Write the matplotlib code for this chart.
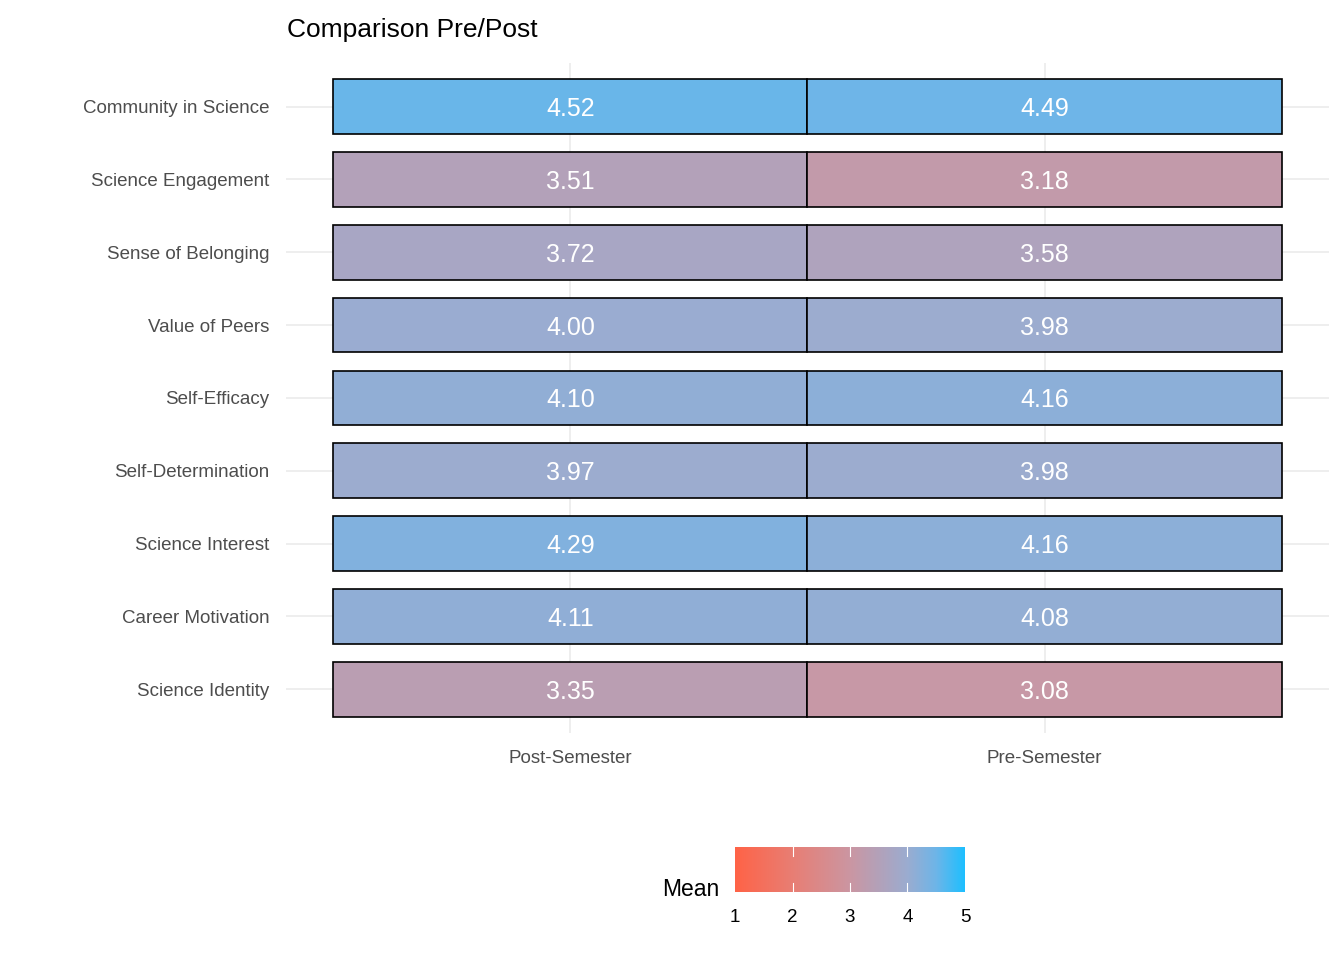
import numpy as np
import matplotlib.pyplot as plt
from matplotlib.colors import LinearSegmentedColormap, Normalize
from matplotlib.patches import Rectangle

plt.rcParams['font.family'] = ['Liberation Sans', 'DejaVu Sans']

constructs = ["Community in Science", "Science Engagement", "Sense of Belonging",
              "Value of Peers", "Self-Efficacy", "Self-Determination",
              "Science Interest", "Career Motivation", "Science Identity"]
semesters = ["Post-Semester", "Pre-Semester"]
post_mean = [4.52, 3.51, 3.72, 4.00, 4.10, 3.97, 4.29, 4.11, 3.35]
pre_mean = [4.49, 3.18, 3.58, 3.98, 4.16, 3.98, 4.16, 4.08, 3.08]

nodes = [(0.0, (255, 99, 71)), (0.25, (232, 126, 116)), (0.5, (203, 150, 162)),
         (0.75, (155, 172, 208)), (0.875, (110, 181, 232)), (1.0, (30, 191, 255))]
cmap = LinearSegmentedColormap.from_list(
    "mean", [(p, tuple(c / 255 for c in rgb)) for p, rgb in nodes])
norm = Normalize(1, 5)

fig = plt.figure(figsize=(13.44, 9.6), dpi=100)
ax = fig.add_axes([0.2128, 0.2365, 0.776, 0.698])
n = len(constructs)
for j, vals in enumerate([post_mean, pre_mean]):
    for i, v in enumerate(vals):
        y = n - 1 - i
        ax.add_patch(Rectangle((j - 0.5, y - 0.375), 1, 0.75, facecolor=cmap(norm(v)),
                               edgecolor="black", linewidth=1.2, zorder=2))
        ax.text(j, y, f"{v:.2f}", color="white", ha="center", va="center_baseline",
                fontsize=18, zorder=3)
ax.set_xlim(-0.6, 1.6)
ax.set_ylim(-0.6, n - 0.4)
ax.set_xticks(range(2))
ax.set_xticklabels(semesters)
ax.set_yticks(range(n))
ax.set_yticklabels(constructs[::-1])
ax.tick_params(length=0, labelsize=13.5, colors="#4d4d4d", pad=12)
ax.grid(color="#ebebeb", linewidth=1.2, zorder=0)
ax.set_axisbelow(True)
for s in ax.spines.values():
    s.set_visible(False)
fig.text(0.2135, 0.969, "Comparison Pre/Post", fontsize=19, va="center")

cax = fig.add_axes([735 / 1344, 1 - 892 / 960, 230 / 1344, 45 / 960])
grad = np.linspace(1, 5, 256).reshape(1, -1)
cax.imshow(grad, cmap=cmap, norm=norm, aspect="auto", extent=[1, 5, 0, 1])
for t in [2, 3, 4]:
    cax.axvline(t, color="white", linewidth=0.8, ymax=0.2)
    cax.axvline(t, color="white", linewidth=0.8, ymin=0.8)
cax.set_xticks([1, 2, 3, 4, 5])
cax.set_yticks([])
cax.tick_params(length=0, labelsize=13.5, pad=12)
for s in cax.spines.values():
    s.set_visible(False)
fig.text(719 / 1344, 1 - 890 / 960, "Mean", fontsize=16.5, ha="right", va="center")

fig.savefig("out.png", dpi=100)
